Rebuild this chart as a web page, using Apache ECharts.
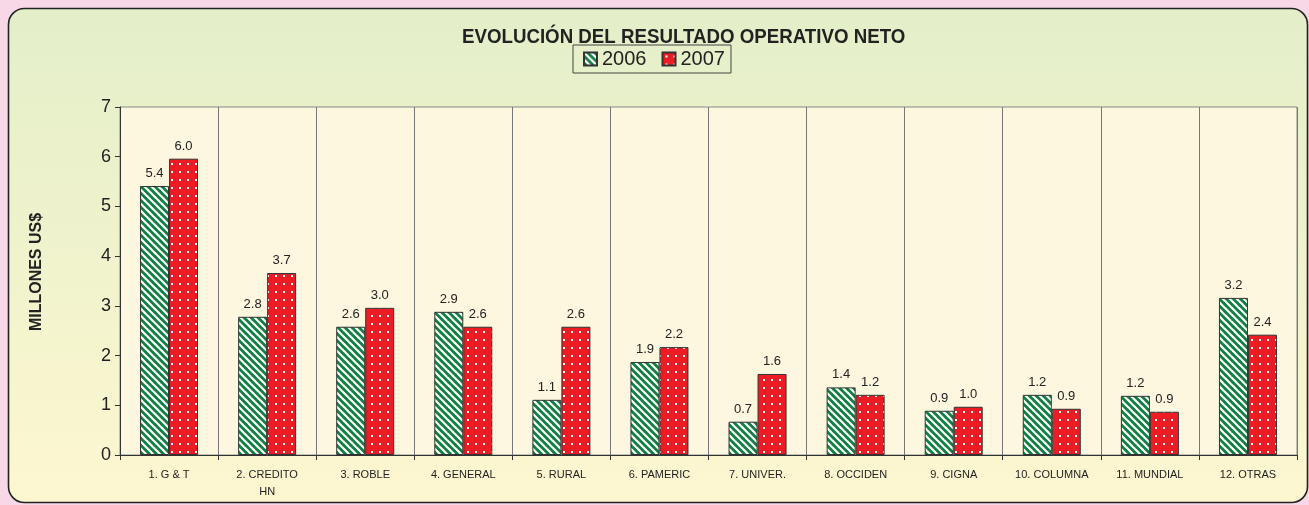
<!DOCTYPE html>
<html>
<head>
<meta charset="utf-8">
<script src="https://cdn.jsdelivr.net/npm/echarts@6/dist/echarts.min.js"></script>
<style>
  html, body { margin: 0; padding: 0; background: #f8d8e7; }
  #chart { width: 1309px; height: 505px; }
</style>
</head>
<body>
<div id="chart"></div>
<script>
// 数据
var categories = ['1. G & T', '2. CREDITO\nHN', '3. ROBLE', '4. GENERAL', '5. RURAL', '6. PAMERIC',
  '7. UNIVER.', '8. OCCIDEN', '9. CIGNA', '10. COLUMNA', '11. MUNDIAL', '12. OTRAS']
var seriesNames = ['2006', '2007']
var values2006 = [5.41, 2.78, 2.58, 2.88, 1.11, 1.87, 0.67, 1.36, 0.89, 1.21, 1.19, 3.16]
var values2007 = [5.96, 3.66, 2.96, 2.58, 2.58, 2.17, 1.63, 1.21, 0.97, 0.93, 0.87, 2.42]
var yTicks = [0, 1, 2, 3, 4, 5, 6, 7]

// 填充图案
function stripeTile () {
  var s = 7, c = document.createElement('canvas')
  c.width = s; c.height = s
  var ctx = c.getContext('2d')
  ctx.fillStyle = '#0f7f40'
  ctx.fillRect(0, 0, s, s)
  ctx.strokeStyle = '#ffffff'
  ctx.lineWidth = 2.2
  ;[-s, 0, s].forEach(function (k) {
    ctx.beginPath()
    ctx.moveTo(k - 1, -1)
    ctx.lineTo(k + s + 1, s + 1)
    ctx.stroke()
  })
  return c
}
function dotTile () {
  var c = document.createElement('canvas')
  c.width = 8; c.height = 8
  var ctx = c.getContext('2d')
  ctx.fillStyle = '#ec1c24'
  ctx.fillRect(0, 0, 8, 8)
  ctx.fillStyle = '#ffffff'
  ctx.fillRect(3, 3, 2, 2)
  return c
}
var greenFill = { image: stripeTile(), repeat: 'repeat' }
var redFill = { image: dotTile(), repeat: 'repeat' }

var font = 'Liberation Sans, Arial, sans-serif'

var chart = echarts.init(document.getElementById('chart'))

var labelOpt = {
  show: true,
  position: 'top',
  distance: 6,
  fontFamily: font,
  fontSize: 13,
  color: '#222',
  formatter: function (p) { return p.value.toFixed(1) }
}

var option = {
  backgroundColor: '#f8d8e7',
  animation: false,
  graphic: [
    {
      type: 'rect',
      z: -10,
      shape: { x: 8.5, y: 8.5, width: 1299, height: 494, r: 16 },
      style: {
        fill: new echarts.graphic.LinearGradient(0, 0, 0, 1, [
          { offset: 0, color: '#e3efc9' },
          { offset: 1, color: '#fdf7d0' }
        ]),
        stroke: '#222',
        lineWidth: 1.6
      }
    },
    {
      type: 'text',
      x: 462,
      y: 27,
      scaleX: 0.935,
      style: {
        text: 'EVOLUCIÓN DEL RESULTADO OPERATIVO NETO',
        font: 'bold 20px ' + font,
        fill: '#222'
      }
    },
    {
      type: 'text',
      x: 37,
      y: 272,
      rotation: Math.PI / 2,
      style: {
        text: 'MILLONES US$',
        font: 'bold 16px ' + font,
        fill: '#222',
        align: 'center',
        verticalAlign: 'middle'
      }
    }
  ],
  legend: {
    left: 573,
    top: 45,
    itemWidth: 13,
    itemHeight: 13,
    itemGap: 15,
    padding: [4, 6, 4, 10],
    borderColor: '#444',
    borderWidth: 1,
    backgroundColor: 'transparent',
    textStyle: { fontFamily: font, fontSize: 20, color: '#222' },
    data: seriesNames.map(function (n) { return { name: n, icon: 'rect' } })
  },
  grid: {
    left: 120,
    right: 12,
    top: 107,
    bottom: 50,
    show: true,
    backgroundColor: '#fdf7df',
    borderColor: '#888',
    borderWidth: 1
  },
  xAxis: {
    type: 'category',
    data: categories,
    axisLine: { lineStyle: { color: '#333', width: 1 } },
    axisTick: { show: true, length: 5, lineStyle: { color: '#333' } },
    axisLabel: { fontFamily: font, fontSize: 11, color: '#222', margin: 11, lineHeight: 17, interval: 0 },
    splitLine: { show: true, lineStyle: { color: '#777', width: 1 } }
  },
  yAxis: {
    type: 'value',
    min: yTicks[0],
    max: yTicks[yTicks.length - 1],
    interval: 1,
    axisLine: { show: true, lineStyle: { color: '#333', width: 1 } },
    axisTick: { show: true, length: 5, lineStyle: { color: '#333' } },
    axisLabel: { fontFamily: font, fontSize: 18, color: '#222', margin: 9 },
    splitLine: { show: false }
  },
  series: [
    {
      name: seriesNames[0],
      type: 'bar',
      data: values2006,
      barWidth: 29,
      barGap: '0%',
      itemStyle: { color: greenFill, borderColor: '#333', borderWidth: 1 },
      label: labelOpt
    },
    {
      name: seriesNames[1],
      type: 'bar',
      data: values2007,
      barWidth: 29,
      barGap: '0%',
      itemStyle: { color: redFill, borderColor: '#333', borderWidth: 1 },
      label: labelOpt
    }
  ]
}

chart.setOption(option)
</script>
</body>
</html>
